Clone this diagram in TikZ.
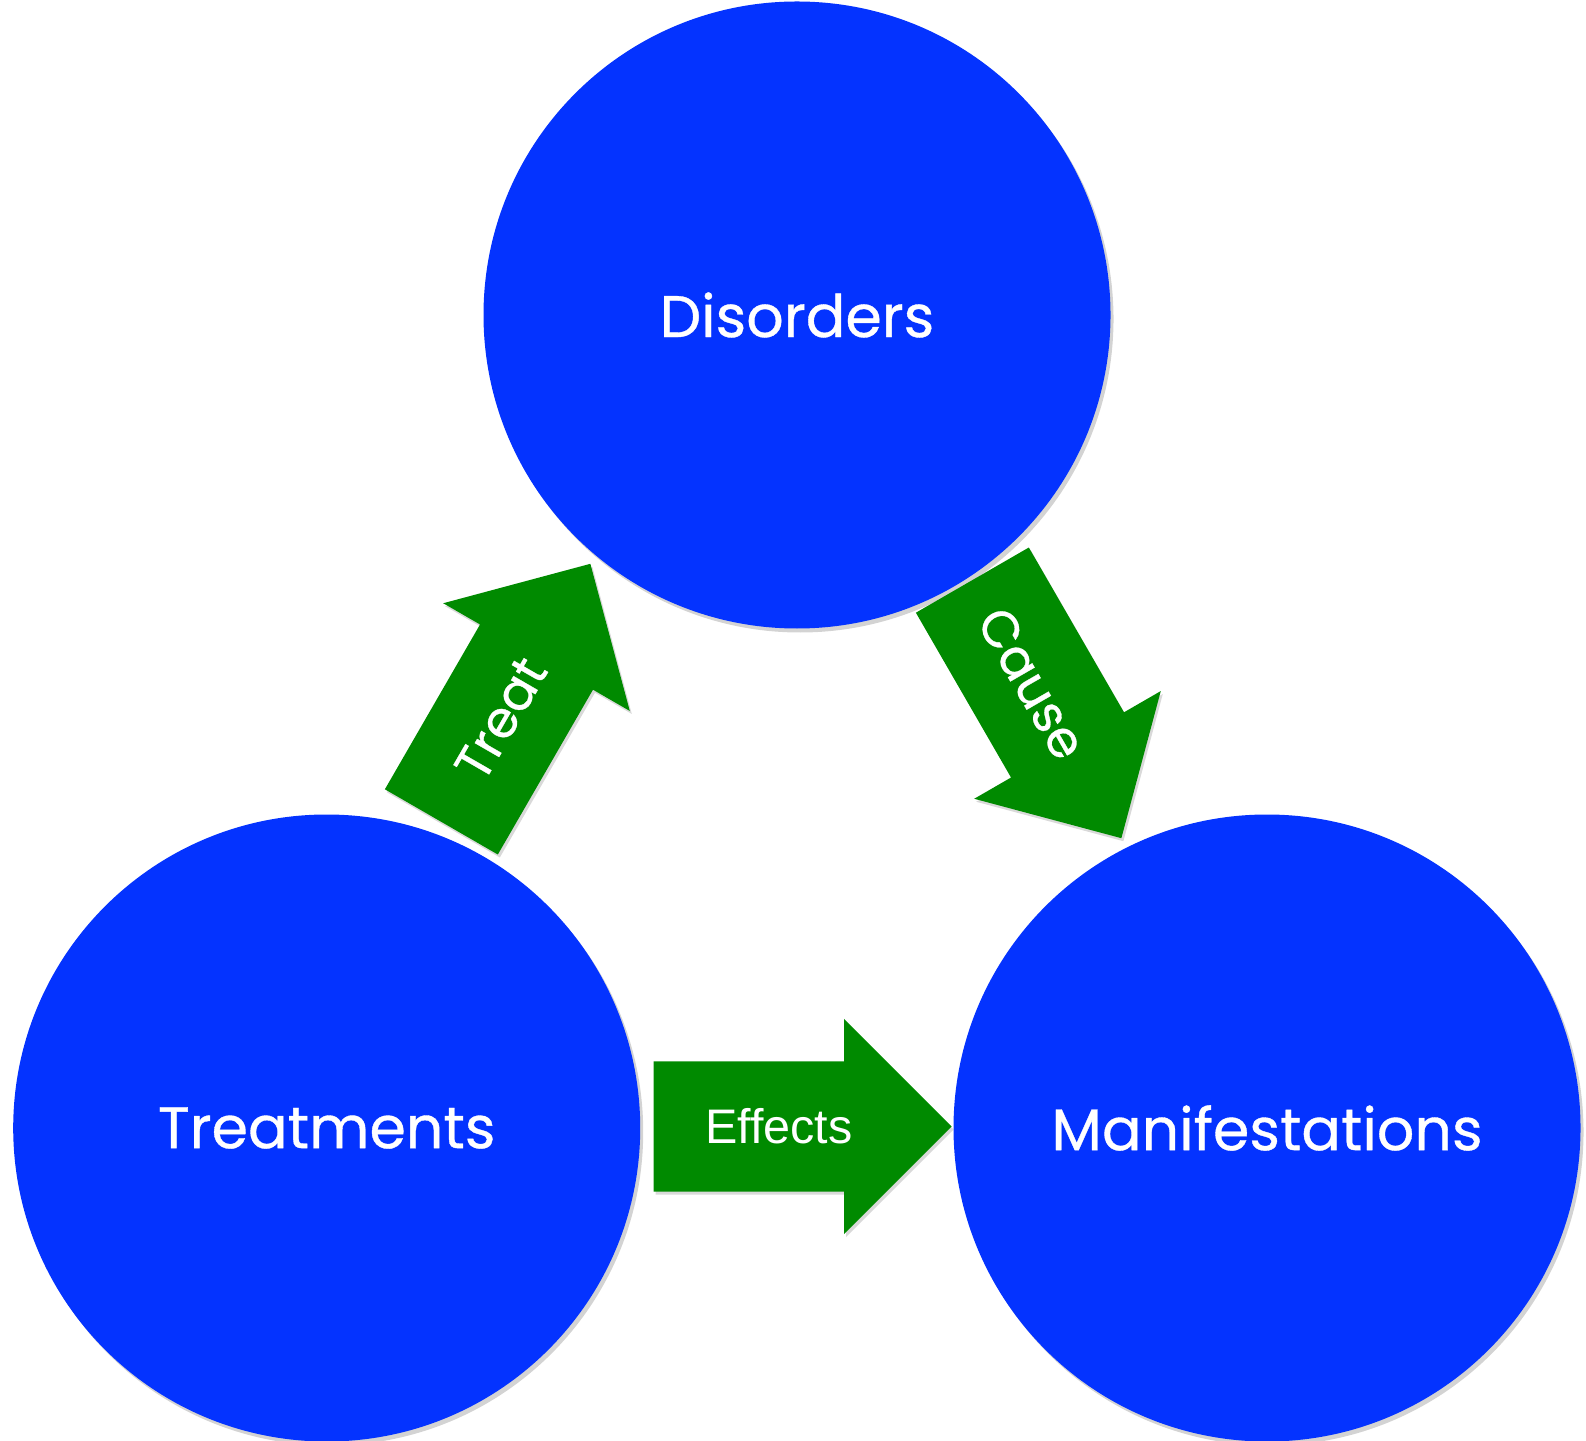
\documentclass[tikz,border=0pt]{standalone}
\usepackage{fontspec}
\setmainfont[FakeBold=0.6]{Poppins}
\newfontfamily\arialfont{Liberation Sans}
\usetikzlibrary{shapes.arrows, shadows, calc}
\definecolor{topicblue}{RGB}{4,51,255}
\definecolor{linkgreen}{RGB}{0,138,0}
\tikzset{
    topic/.style = {circle, fill=topicblue, minimum size=6.27cm, inner sep=0pt,
        text=white, font=\fontsize{16.7}{20}\selectfont,
        drop shadow={shadow xshift=0.03cm, shadow yshift=-0.04cm, opacity=0.35}},
    link/.style = {single arrow, fill=linkgreen, single arrow head extend=0.425cm,
        single arrow tip angle=90, inner xsep=0pt, inner ysep=0.645cm,
        minimum height=2.98cm, minimum width=0pt, anchor=tail,
        drop shadow={shadow xshift=0.02cm, shadow yshift=-0.03cm, opacity=0.3}},
    linklabel/.style = {text=white, font=\fontsize{14.5}{17}\selectfont},
}
\begin{document}
\begin{tikzpicture}
    \useasboundingbox (0,0) rectangle (15.86,14.40);
    % the three circles
    \node[topic] (disorders) at (7.97,11.25) {Disorders};
    \node[topic] (treatments) at (3.267,3.12) {Treatments};
    \node[topic] (manifest) at (12.67,3.12) {Manifestations};
    % block arrows between them
    \node[link, rotate=60] (treat) at (4.41,6.175) {};
    \node[link, rotate=-60] (cause) at (9.72,8.605) {};
    \node[link] (effects) at (6.53,3.135) {};
    \node[linklabel, rotate=60] (treattext) at ($(treat.tail)!0.40!(treat.tip)$) {Treat};
    \node[linklabel, rotate=-60] (causetext) at ($(cause.tail)!0.40!(cause.tip)$) {Cause};
    \node[linklabel, font=\arialfont\fontsize{13.8}{16}\selectfont] (effectstext)
        at ($(effects.tail)!0.42!(effects.tip)$) {Effects};
\end{tikzpicture}
\end{document}
